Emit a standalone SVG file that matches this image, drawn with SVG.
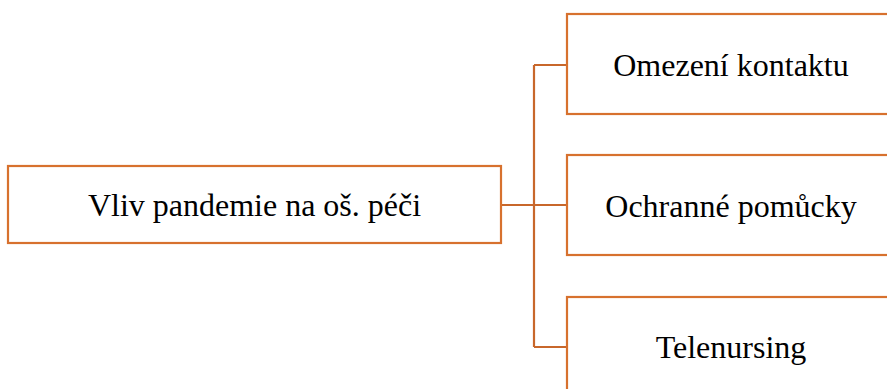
<svg xmlns="http://www.w3.org/2000/svg" width="887" height="389" viewBox="0 0 887 389">
<style>
.box{fill:#fff;stroke:#D7712E;stroke-width:2.2}
.conn{fill:none;stroke:#C8672B;stroke-width:2.2}
.t{font-family:"Liberation Serif","Times New Roman",serif;font-size:32px;fill:#000;text-anchor:middle;dominant-baseline:central}
</style>
<rect width="887" height="389" fill="#fff"/>
<g id="connectors">
<path class="conn" d="M501 205 H567 M534 65 V347 M534 65 H567 M534 347 H567"/>
</g>
<g id="root"><rect class="box" x="8" y="166" width="493" height="77"/><text class="t" x="254.5" y="205">Vliv pandemie na oš. péči</text></g>
<g id="n1"><rect class="box" x="567" y="14" width="330" height="100"/><text class="t" x="731" y="65">Omezení kontaktu</text></g>
<g id="n2"><rect class="box" x="567" y="155" width="330" height="100"/><text class="t" x="731" y="206">Ochranné pomůcky</text></g>
<g id="n3"><rect class="box" x="567" y="297" width="330" height="100"/><text class="t" x="731" y="347">Telenursing</text></g>
</svg>
